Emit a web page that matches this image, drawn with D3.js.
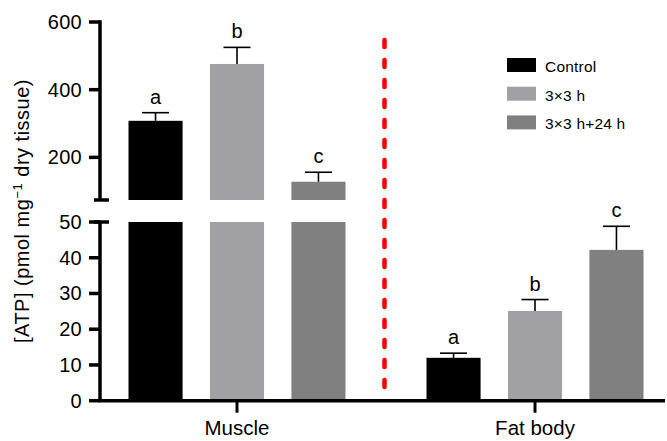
<!DOCTYPE html>
<html>
<head>
<meta charset="utf-8">
<script src="https://cdn.jsdelivr.net/npm/d3@7"></script>
<style>
  html, body { margin: 0; padding: 0; background: #fff; }
  svg { display: block; font-family: "Liberation Sans", Arial, Helvetica, sans-serif; }
</style>
</head>
<body>
<svg id="chart" width="667" height="441"></svg>
<script>
// ---- data ----
const categories = ["Muscle", "Fat body"];
const series = ["Control", "3\u00d73 h", "3\u00d73 h+24 h"];
const colors = ["#000000", "#a1a1a5", "#808080"];
const muscleValues = [308, 476, 128];
const muscleErrors = [24, 49, 28];
const fatValues = [12, 25.1, 42.2];
const fatErrors = [1.3, 3.2, 6.6];
const muscleLetters = ["a", "b", "c"];
const fatLetters = ["a", "b", "c"];
const upperTicks = [200, 400, 600];
const lowerTicks = [0, 10, 20, 30, 40, 50];

const values = [muscleValues, fatValues];
const errors = [muscleErrors, fatErrors];
const letters = [muscleLetters, fatLetters];

// ---- layout ----
const svg = d3.select("#chart");
const axisX = 100;
const yTop = d3.scaleLinear().domain([74, 600]).range([200, 22]);
const yBot = d3.scaleLinear().domain([0, 50]).range([400.7, 222]);
const x0 = d3.scalePoint().domain(categories).range([237, 535]);
const x1 = d3.scaleBand().domain(series).range([-108.5, 108.5]).paddingInner(0.336).paddingOuter(0);
const bw = x1.bandwidth();

function isUpper(v) { return v > 50; }

// ---- bars ----
categories.forEach((cat, ci) => {
  const g = svg.append("g");
  series.forEach((s, si) => {
    const v = values[ci][si];
    const e = errors[ci][si];
    const xl = x0(cat) + x1(s);
    const xc = xl + bw / 2;
    const lowTop = Math.min(v, 50);
    g.append("rect")
      .attr("x", xl).attr("width", bw)
      .attr("y", yBot(lowTop)).attr("height", yBot(0) - yBot(lowTop))
      .attr("fill", colors[si]);
    let capY, topY;
    if (isUpper(v)) {
      g.append("rect")
        .attr("x", xl).attr("width", bw)
        .attr("y", yTop(v)).attr("height", yTop.range()[0] - yTop(v))
        .attr("fill", colors[si]);
      topY = yTop(v); capY = yTop(v + e);
    } else {
      topY = yBot(v); capY = yBot(v + e);
    }
    g.append("line").attr("x1", xc).attr("x2", xc).attr("y1", topY).attr("y2", capY)
      .attr("stroke", "#000").attr("stroke-width", 1.6);
    g.append("line").attr("x1", xc - bw / 4).attr("x2", xc + bw / 4).attr("y1", capY).attr("y2", capY)
      .attr("stroke", "#000").attr("stroke-width", 1.6);
    g.append("text").attr("x", xc).attr("y", capY - 9)
      .attr("text-anchor", "middle").attr("font-size", 20).attr("fill", "#000")
      .text(letters[ci][si]);
  });
});

// ---- y axis (broken) ----
const axisColor = "#000";
const aw = 3.5;
svg.append("line").attr("x1", axisX).attr("x2", axisX)
  .attr("y1", yTop(600) - aw / 2).attr("y2", yTop.range()[0])
  .attr("stroke", axisColor).attr("stroke-width", aw);
svg.append("line").attr("x1", axisX).attr("x2", axisX)
  .attr("y1", yBot(50)).attr("y2", yBot(0))
  .attr("stroke", axisColor).attr("stroke-width", aw);
[yTop.range()[0], yBot(50)].forEach(y => {
  svg.append("line").attr("x1", axisX - 6).attr("x2", axisX + 9)
    .attr("y1", y).attr("y2", y).attr("stroke", axisColor).attr("stroke-width", aw);
});
function drawTicks(scale, ticks) {
  ticks.forEach(t => {
    const y = scale(t);
    svg.append("line").attr("x1", axisX - 11).attr("x2", axisX)
      .attr("y1", y).attr("y2", y).attr("stroke", axisColor).attr("stroke-width", aw);
    svg.append("text").attr("x", axisX - 18).attr("y", y + 7)
      .attr("text-anchor", "end").attr("font-size", 20).attr("letter-spacing", 0.3)
      .attr("fill", "#000").text(t);
  });
}
drawTicks(yTop, upperTicks);
drawTicks(yBot, lowerTicks);

// ---- x axis ----
svg.append("line").attr("x1", axisX - aw / 2).attr("x2", 665)
  .attr("y1", yBot(0)).attr("y2", yBot(0))
  .attr("stroke", axisColor).attr("stroke-width", aw);
categories.forEach(cat => {
  svg.append("line").attr("x1", x0(cat)).attr("x2", x0(cat))
    .attr("y1", yBot(0)).attr("y2", yBot(0) + 12)
    .attr("stroke", axisColor).attr("stroke-width", 3);
  svg.append("text").attr("x", x0(cat)).attr("y", 435)
    .attr("text-anchor", "middle").attr("font-size", 20.5).attr("fill", "#000").text(cat);
});

// ---- y label ----
const yl = svg.append("text")
  .attr("transform", "translate(29,211) rotate(-90)")
  .attr("text-anchor", "middle").attr("font-size", 20).attr("letter-spacing", 0.5)
  .attr("fill", "#000");
yl.append("tspan").text("[ATP] (pmol mg");
yl.append("tspan").attr("font-size", 13).attr("dy", -7).text("\u22121");
yl.append("tspan").attr("dy", 7).text(" dry tissue)");

// ---- red dashed divider ----
svg.append("line").attr("x1", 384.5).attr("x2", 384.5).attr("y1", 40).attr("y2", 393)
  .attr("stroke", "#ff0000").attr("stroke-width", 4.5)
  .attr("stroke-dasharray", "7,13").attr("stroke-linecap", "round");

// ---- legend ----
const legend = svg.append("g").attr("transform", "translate(507,58)");
series.forEach((s, i) => {
  const row = legend.append("g").attr("transform", `translate(0,${i * 28.7})`);
  row.append("rect").attr("width", 29).attr("height", 14).attr("fill", colors[i]);
  row.append("text").attr("x", 38).attr("y", 14).attr("font-size", 15.5)
    .attr("letter-spacing", 0.2).attr("fill", "#000").text(s);
});
</script>
</body>
</html>
